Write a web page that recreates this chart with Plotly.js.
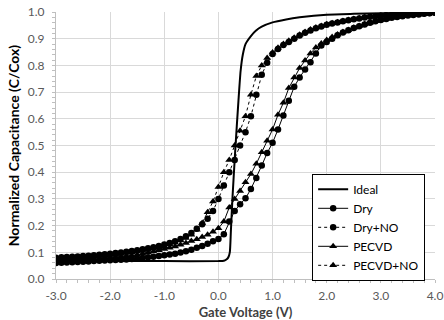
<!DOCTYPE html>
<html>
<head>
<meta charset="utf-8">
<script src="https://cdn.plot.ly/plotly-3.0.1.min.js"></script>
<style>html,body{margin:0;padding:0;background:#fff;}#chart{width:444px;height:320px;}</style>
</head>
<body>
<div id="chart"></div>
<script>
const voltage = [-3.0,-2.9,-2.8,-2.7,-2.6,-2.5,-2.4,-2.3,-2.2,-2.1,-2.0,-1.9,-1.8,-1.7,-1.6,-1.5,-1.4,-1.3,-1.2,-1.1,-1.0,-0.9,-0.8,-0.7,-0.6,-0.5,-0.4,-0.3,-0.2,-0.1,0.0,0.1,0.2,0.3,0.4,0.5,0.6,0.7,0.8,0.9,1.0,1.1,1.2,1.3,1.4,1.5,1.6,1.7,1.8,1.9,2.0,2.1,2.2,2.3,2.4,2.5,2.6,2.7,2.8,2.9,3.0,3.1,3.2,3.3,3.4,3.5,3.6,3.7,3.8,3.9,4.0];

const idealV = [-3.0,-1.0,0.0,0.1,0.14,0.18,0.21,0.23,0.26,0.31,0.37,0.41,0.45,0.5,0.6,0.69,0.8,1.0,1.25,1.5,2.0,2.5,3.0,3.5,4.0];
const idealC = [0.067,0.067,0.067,0.068,0.072,0.08,0.1,0.18,0.306,0.48,0.668,0.78,0.84,0.88,0.91,0.93,0.945,0.961,0.972,0.98,0.99,0.993,0.995,0.997,0.998];

const dryC = [0.060,0.061,0.062,0.063,0.064,0.065,0.066,0.067,0.068,0.069,0.070,0.071,0.072,0.073,0.075,0.077,0.079,0.081,0.083,0.086,0.089,0.092,0.095,0.099,0.104,0.110,0.117,0.124,0.132,0.141,0.150,0.168,0.215,0.255,0.280,0.302,0.337,0.378,0.425,0.472,0.510,0.560,0.612,0.668,0.720,0.755,0.785,0.812,0.845,0.875,0.888,0.900,0.913,0.923,0.932,0.940,0.947,0.953,0.960,0.965,0.970,0.974,0.978,0.981,0.984,0.987,0.989,0.991,0.993,0.995,0.997];

const dryNoC = [0.080,0.081,0.082,0.083,0.084,0.086,0.087,0.089,0.091,0.093,0.095,0.097,0.099,0.102,0.105,0.108,0.111,0.115,0.119,0.124,0.129,0.135,0.141,0.150,0.160,0.172,0.188,0.205,0.226,0.255,0.300,0.350,0.400,0.446,0.500,0.550,0.610,0.690,0.765,0.810,0.843,0.861,0.876,0.888,0.900,0.912,0.922,0.931,0.939,0.946,0.952,0.957,0.961,0.965,0.969,0.973,0.976,0.979,0.982,0.984,0.986,0.988,0.989,0.990,0.991,0.992,0.993,0.994,0.995,0.996,0.997];

const pecvdC = [0.070,0.071,0.072,0.073,0.074,0.075,0.076,0.077,0.078,0.079,0.081,0.082,0.084,0.086,0.088,0.091,0.095,0.099,0.103,0.108,0.112,0.117,0.122,0.128,0.135,0.142,0.149,0.157,0.166,0.177,0.190,0.215,0.268,0.300,0.330,0.362,0.393,0.432,0.475,0.518,0.560,0.615,0.660,0.715,0.755,0.790,0.818,0.845,0.867,0.882,0.895,0.906,0.916,0.925,0.933,0.941,0.948,0.954,0.960,0.965,0.970,0.974,0.978,0.981,0.984,0.987,0.989,0.991,0.993,0.995,0.997];

const pecvdNoC = [0.076,0.077,0.078,0.079,0.080,0.081,0.082,0.084,0.086,0.088,0.090,0.092,0.094,0.097,0.100,0.103,0.106,0.110,0.114,0.118,0.123,0.129,0.136,0.144,0.154,0.166,0.184,0.210,0.250,0.290,0.345,0.400,0.446,0.500,0.555,0.610,0.690,0.760,0.800,0.828,0.848,0.866,0.880,0.892,0.904,0.915,0.925,0.934,0.942,0.948,0.954,0.958,0.962,0.966,0.970,0.974,0.977,0.980,0.982,0.984,0.986,0.988,0.989,0.990,0.991,0.992,0.993,0.994,0.995,0.996,0.997];

const seriesNames = ['Ideal','Dry','Dry+NO','PECVD','PECVD+NO'];
const xTicks = [-3,-2,-1,0,1,2,3,4];
const xTickText = ['-3.0','-2.0','-1.0','0.0','1.0','2.0','3.0','4.0'];
const yTicks = [0,0.1,0.2,0.3,0.4,0.5,0.6,0.7,0.8,0.9,1.0];

const FONT = 'Lato, "Liberation Sans", Arial, sans-serif';

const traces = [
  {x: idealV, y: idealC, name: seriesNames[0], mode: 'lines', line: {color: '#000', width: 2, shape: 'spline', smoothing: 0.6}},
  {x: voltage, y: dryC, name: seriesNames[1], mode: 'lines+markers', line: {color: '#000', width: 1}, marker: {symbol: 'circle', size: 6.5, color: '#000'}},
  {x: voltage, y: dryNoC, name: seriesNames[2], mode: 'lines+markers', line: {color: '#000', width: 1, dash: 'dot'}, marker: {symbol: 'circle', size: 6.5, color: '#000'}},
  {x: voltage, y: pecvdC, name: seriesNames[3], mode: 'lines+markers', line: {color: '#000', width: 1}, marker: {symbol: 'triangle-up', size: 7, color: '#000'}},
  {x: voltage, y: pecvdNoC, name: seriesNames[4], mode: 'lines+markers', line: {color: '#000', width: 1, dash: 'dot'}, marker: {symbol: 'triangle-up', size: 7, color: '#000'}}
];

const layout = {
  width: 444, height: 320,
  margin: {l: 56, r: 9, t: 12, b: 41},
  paper_bgcolor: '#fff', plot_bgcolor: '#fff',
  font: {family: FONT, size: 12, color: '#595959'},
  showlegend: true,
  legend: {
    x: 0.974, y: 0.394, xanchor: 'right', yanchor: 'top',
    bgcolor: '#fff', bordercolor: '#000', borderwidth: 1,
    font: {family: FONT, size: 12, color: '#000'},
    tracegroupgap: 0, itemwidth: 30
  },
  xaxis: {
    range: [-3, 4], tickvals: xTicks, ticktext: xTickText,
    showgrid: true, gridcolor: '#d9d9d9', gridwidth: 1,
    showline: true, linecolor: '#bfbfbf', linewidth: 1,
    zeroline: false, ticks: '', ticklen: 0, ticklabelstandoff: 6,
    minor: {dtick: 0.2, ticks: 'outside', ticklen: 3, tickcolor: '#bfbfbf', showgrid: false},
    tickfont: {family: FONT, size: 12, color: '#595959'},
    title: {text: '<b>Gate Voltage (V)</b>', font: {family: FONT, size: 13, color: '#404040'}, standoff: 8}
  },
  yaxis: {
    range: [0, 1], tickvals: yTicks, tickformat: '.1f',
    showgrid: true, gridcolor: '#d9d9d9', gridwidth: 1,
    showline: true, linecolor: '#bfbfbf', linewidth: 1,
    zeroline: false, ticks: '', ticklen: 0, ticklabelstandoff: 8,
    minor: {dtick: 0.02, ticks: 'outside', ticklen: 3, tickcolor: '#bfbfbf', showgrid: false},
    tickfont: {family: FONT, size: 12, color: '#595959'},
    title: {text: '<b>Normalized Capacitance (C/Cox)</b>', font: {family: FONT, size: 14, color: '#000'}, standoff: 4}
  }
};

Plotly.newPlot('chart', traces, layout, {staticPlot: true, displayModeBar: false});
</script>
</body>
</html>
